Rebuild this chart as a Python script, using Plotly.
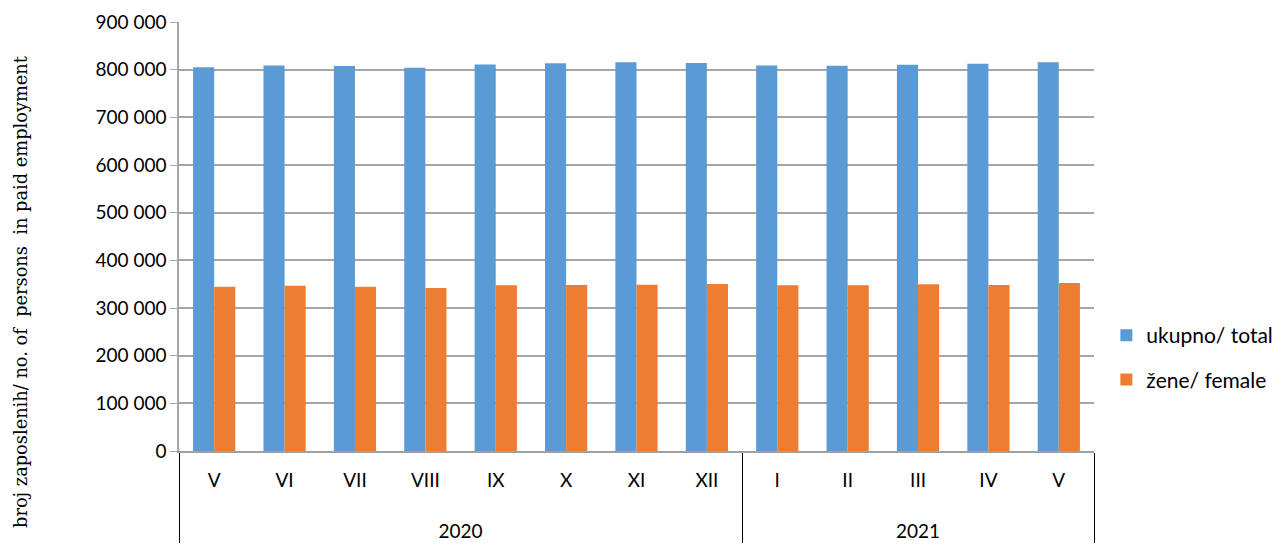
import plotly.graph_objects as go

years = ["2020"] * 8 + ["2021"] * 5
months = ["V", "VI", "VII", "VIII", "IX", "X", "XI", "XII", "I", "II", "III", "IV", "V"]
total = [805000, 809000, 807800, 804000, 811000, 813400, 815500, 814000,
         809000, 808400, 810500, 812600, 815300]
female = [344700, 346800, 344700, 342000, 347600, 348200, 348900, 350300,
          347600, 347600, 349700, 348200, 352400]
y_ticks = [0, 100000, 200000, 300000, 400000, 500000, 600000, 700000, 800000, 900000]
y_labels = ["0", "100 000", "200 000", "300 000", "400 000", "500 000",
            "600 000", "700 000", "800 000", "900 000"]
y_title = "broj zaposlenih/ no. of  persons  in paid employment"

span = "<span style='font-size:19px'>{}</span>"
# make repeated month names distinct (zero-width space) so category order is kept
seen = {}
month_keys = []
for m in months:
    seen[m] = seen.get(m, 0) + 1
    month_keys.append(span.format(m) + "\u200b" * (seen[m] - 1))
year_keys = ["<br>" + span.format(y) for y in years]

tick_font = dict(family="Lato, Open Sans, sans-serif", size=19, color="#000000")
x_tick_font = dict(family="Lato, Open Sans, sans-serif", size=24, color="#000000")

fig = go.Figure()
fig.add_trace(go.Bar(x=[year_keys, month_keys], y=total, name="ukupno/ total",
                     marker=dict(color="#5B9BD5", line=dict(width=0)),
                     legendgroup="a"))
fig.add_trace(go.Bar(x=[year_keys, month_keys], y=female, name="žene/ female",
                     marker=dict(color="#ED7D31", line=dict(width=0)),
                     legendgroup="b"))

fig.add_annotation(text=y_title, textangle=-90, xref="paper", yref="paper",
                   x=-0.1738, y=0.3706, xanchor="center", yanchor="middle",
                   showarrow=False,
                   font=dict(family="DejaVu Serif, serif", size=17.8, color="#000000"))

fig.update_layout(
    width=1287, height=545,
    margin=dict(l=171, r=201, t=14, b=102, autoexpand=False),
    paper_bgcolor="white", plot_bgcolor="white",
    barmode="group", bargap=0.4, bargroupgap=0,
    font=tick_font,
    legend=dict(x=1.0135, y=0.317, xanchor="left", yanchor="top",
                font=dict(family="Lato, Open Sans, sans-serif", size=21, color="#000000"),
                traceorder="grouped", tracegroupgap=14, itemwidth=30),
    xaxis=dict(type="multicategory", showgrid=False, showline=True,
               linecolor="#A0A0A0", linewidth=1.5, automargin=False,
               showdividers=True, dividercolor="#000000", dividerwidth=1,
               tickfont=x_tick_font, ticks="", ticklabelstandoff=5),
    yaxis=dict(range=[0, 900000], tickvals=y_ticks, ticktext=y_labels,
               showgrid=True, gridcolor="#A6A6A6", gridwidth=1.5,
               showline=True, linecolor="#A6A6A6", linewidth=1.5,
               ticks="outside", ticklen=7, tickcolor="#A6A6A6", automargin=False,
               tickfont=tick_font, zeroline=False),
)

fig.write_html("out.html")
